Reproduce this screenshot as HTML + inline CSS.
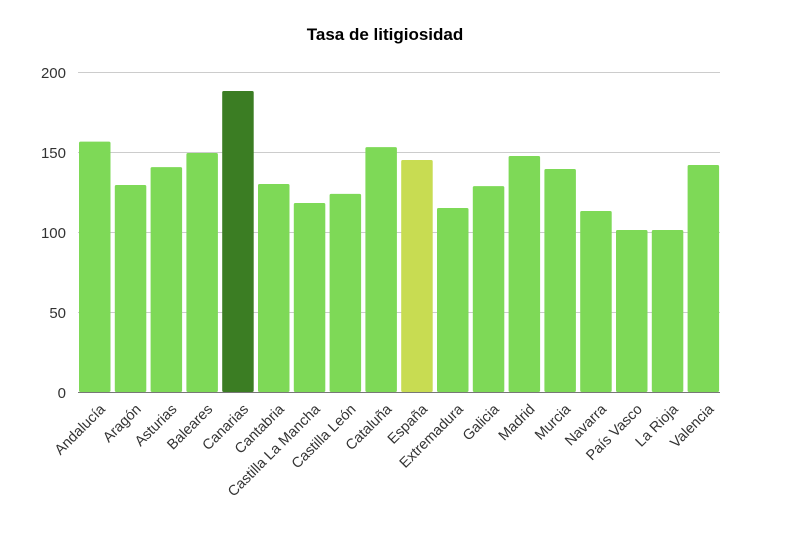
<!DOCTYPE html><html><head><style>body{margin:0;background:#fff}</style></head><body>
<svg width="788" height="544" xmlns="http://www.w3.org/2000/svg" font-family="Liberation Sans, DejaVu Sans, sans-serif">
<rect width="788" height="544" fill="#fff"/>
<text x="385" y="40" text-anchor="middle" font-size="17" font-weight="bold" fill="#000">Tasa de litigiosidad</text>
<g stroke="#ccc" stroke-width="1">
<line x1="78" x2="720" y1="72.5" y2="72.5"/><line x1="78" x2="720" y1="152.5" y2="152.5"/><line x1="78" x2="720" y1="232.5" y2="232.5"/><line x1="78" x2="720" y1="312.5" y2="312.5"/>
</g>
<g font-size="15" fill="#333" text-anchor="end">
<text x="66" y="78">200</text><text x="66" y="158">150</text><text x="66" y="238">100</text><text x="66" y="318">50</text><text x="66" y="398">0</text>
</g>
<g id="bars"></g>
<line x1="78" x2="720" y1="392.5" y2="392.5" stroke="#777" stroke-width="1"/>
<g id="labels" font-size="14.5" fill="#333" text-anchor="end"></g>
<script>
var d=[["Andalucía",156.7],["Aragón",129.6],["Asturias",140.8],["Baleares",149.6],["Canarias",188.4],["Cantabria",130.2],["Castilla La Mancha",118.3],["Castilla León",124],["Cataluña",153.3],["España",145.2],["Extremadura",115.2],["Galicia",128.9],["Madrid",147.7],["Murcia",139.6],["Navarra",113.3],["País Vasco",101.4],["La Rioja",101.4],["Valencia",142.1]];
var b=document.getElementById('bars'),l=document.getElementById('labels'),ns="http://www.w3.org/2000/svg";
d.forEach(function(e,i){var x=79+i*35.8,h=e[1]*1.5975;var r=document.createElementNS(ns,'rect');r.setAttribute('x',x);r.setAttribute('y',392-h);r.setAttribute('width',31.5);r.setAttribute('height',h);r.setAttribute('rx',1.5);r.setAttribute('fill',i==4?'#3b7d23':i==9?'#c8dc52':'#7ed957');b.appendChild(r);
var t=document.createElementNS(ns,'text');var cx=x+27,cy=410;t.setAttribute('x',cx);t.setAttribute('y',cy);t.setAttribute('transform','rotate(-45 '+cx+' '+cy+')');t.textContent=e[0];l.appendChild(t);});
</script>
</svg></body></html>
